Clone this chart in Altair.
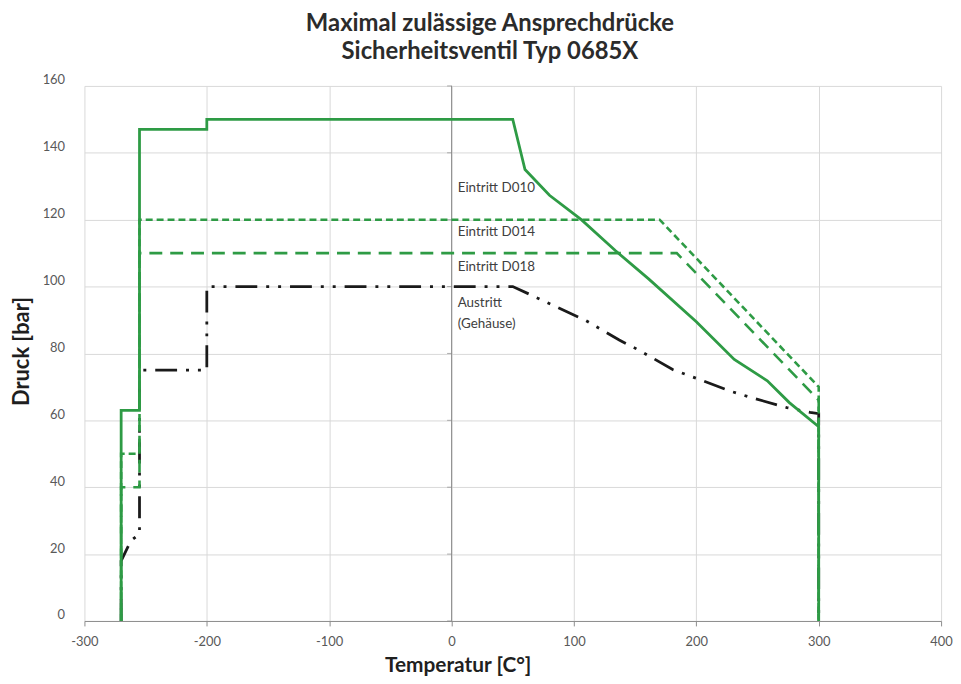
import altair as alt
import pandas as pd

# ---- data ----
d010_t = [-270, -270, -255, -255, -200, -200, 50, 60, 80, 106, 134, 161, 200, 231, 258, 276, 299, 300, 300]
d010_p = [0, 63, 63, 147, 147, 150, 150, 135, 127.3, 120, 110.7, 102.3, 89.5, 78.2, 71.8, 65.3, 58.4, 58, 0]

d014_t = [-270, -270, -255, -255, 170, 300, 300]
d014_p = [0, 50, 50, 120, 120, 70, 0]

d018_t = [-270, -270, -255, -255, 184, 300, 300]
d018_p = [0, 40, 40, 110, 110, 66, 0]

aus_t = [-270, -270, -262, -255, -255, -200, -200, 50, 66, 110, 137, 153, 181, 199, 228, 245, 274, 293, 300, 300]
aus_p = [0, 18, 24, 26, 75, 75, 100, 100, 97.3, 89.8, 84, 81, 75.1, 72.7, 68.7, 66.8, 63.8, 62.4, 62, 0]

label_text = ["Eintritt D010", "Eintritt D014", "Eintritt D018", "Austritt", "(Gehäuse)"]
label_t = [5, 5, 5, 5, 5]
label_p = [129.5, 116.4, 105.8, 95, 88.7]

x_ticks = [-300, -200, -100, 0, 100, 200, 300, 400]
y_ticks = [0, 20, 40, 60, 80, 100, 120, 140, 160]

title_lines = ["Maximal zulässige Ansprechdrücke", "Sicherheitsventil Typ 0685X"]
x_title = "Temperatur  [C°]"
y_title = "Druck [bar]"

GREEN = "#2e9b45"


def frame(t, p):
    return pd.DataFrame({"T": t, "P": p, "i": list(range(len(t)))})


x_scale = alt.Scale(domain=[-300, 400], nice=False, zero=False)
y_scale = alt.Scale(domain=[0, 160], nice=False)

x_enc = alt.X(
    "T:Q", scale=x_scale,
    axis=alt.Axis(values=x_ticks, title=x_title, domain=True, domainColor="#8c8c8c",
                  ticks=True, tickColor="#8c8c8c", tickSize=5, labelPadding=10,
                  labelExpr="'' + datum.value",
                  labelFlush=False, labelOverlap=False, titleX=376, titleY=45,
                  titleFontSize=21, titleBaseline="middle", titleAlign="center"),
)
y_enc = alt.Y(
    "P:Q", scale=y_scale,
    axis=alt.Axis(values=y_ticks, title=y_title, domain=False, ticks=False, labelPadding=20,
                  labelFlush=False, labelOverlap=False, labelOffset=-6,
                  titleX=-63, titleY=267, titleAngle=-90, titleBaseline="middle",
                  titleAlign="center"),
)

zero_axis = alt.Chart(pd.DataFrame({"T": [0], "P": [0], "P2": [160]})).mark_rule(
    color="#8c8c8c", strokeWidth=1
).encode(x=x_enc, y=y_enc, y2="P2:Q")

zero_ticks = alt.Chart(pd.DataFrame({"T": [0] * len(y_ticks), "P": y_ticks})).mark_tick(
    orient="horizontal", size=5, thickness=1, color="#8c8c8c", xOffset=-2
).encode(x=x_enc, y=y_enc)


def series(t, p, **kw):
    return alt.Chart(frame(t, p)).mark_line(interpolate="linear", **kw).encode(
        x=x_enc, y=y_enc, order=alt.Order("i:Q")
    )


l010 = series(d010_t, d010_p, color=GREEN, strokeWidth=2.8)
l014 = series(d014_t, d014_p, color=GREEN, strokeWidth=2.6, strokeDash=[7, 4])
l018 = series(d018_t, d018_p, color=GREEN, strokeWidth=2.6, strokeDash=[13, 8])
laus = series(aus_t, aus_p, color="#1a1a1a", strokeWidth=2.8, strokeDash=[22, 9, 3, 9, 3, 9])

labels = alt.Chart(pd.DataFrame({"T": label_t, "P": label_p, "txt": label_text})).mark_text(
    align="left", baseline="middle", font="Lato", fontSize=13.5, color="#404040"
).encode(x=x_enc, y=y_enc, text="txt:N")

chart = (
    alt.layer(zero_axis, zero_ticks, laus, l010, l014, l018, labels)
    .properties(
        width=863,
        height=539,
        background="white",
        autosize=alt.AutoSizeParams(type="none"),
        padding={"left": 77, "top": 76, "right": 12, "bottom": 60},
        title=alt.TitleParams(
            text=title_lines, font="Lato", fontSize=24, fontWeight="bold", color="#2b2b2b",
            lineHeight=28, anchor="middle", offset=10, dx=-23,
        ),
    )
    .configure_axis(
        gridColor="#d9d9d9", gridWidth=1,
        labelFont="Lato", labelFontSize=13, labelColor="#595959",
        titleFont="Lato", titleFontSize=22, titleFontWeight="bold", titleColor="#1f1f1f",
    )
    .configure_view(stroke=None)
)

chart.save("out.html", embed_options={"renderer": "svg", "actions": False})
